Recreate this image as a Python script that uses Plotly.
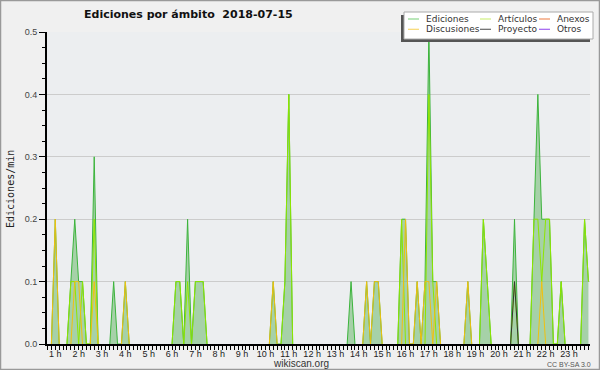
import plotly.graph_objects as go

# ---------------- data (10-minute bins, edits per minute) ----------------
ed_times = ["01:00", "01:40", "01:50", "02:00", "02:10", "02:40", "03:30", "04:00",
            "06:10", "06:20", "06:40", "07:00", "07:10", "07:20", "10:20", "10:50",
            "11:00", "13:40", "14:20", "14:40", "14:50", "15:50", "16:00", "16:30",
            "16:50", "17:00", "17:10", "17:20", "18:40", "19:20", "19:30", "20:40",
            "21:30", "21:40", "21:50", "22:00", "22:10", "22:40", "23:40", "23:50"]
ed_vals = [0.2, 0.1, 0.2, 0.1, 0.1, 0.3, 0.1, 0.1,
           0.1, 0.1, 0.2, 0.1, 0.1, 0.1, 0.1, 0.1,
           0.4, 0.1, 0.1, 0.1, 0.1, 0.2, 0.2, 0.1,
           0.1, 0.5, 0.1, 0.1, 0.1, 0.2, 0.1, 0.2,
           0.2, 0.4, 0.2, 0.2, 0.2, 0.1, 0.2, 0.1]

art_times = ["01:40", "01:50", "02:10", "02:40", "06:10", "06:20", "06:40", "07:00",
             "07:10", "07:20", "10:50", "11:00", "15:50", "17:00", "17:10", "19:20",
             "19:30", "20:40", "21:30", "21:40", "21:50", "22:00", "22:10", "22:40",
             "23:40", "23:50"]
art_vals = [0.1, 0.1, 0.1, 0.2, 0.1, 0.1, 0.1, 0.1,
            0.1, 0.1, 0.1, 0.4, 0.2, 0.4, 0.1, 0.2,
            0.1, 0.1, 0.2, 0.2, 0.1, 0.2, 0.2, 0.1,
            0.2, 0.1]

disc_times = ["01:00", "01:50", "02:00", "02:40", "04:00", "10:20", "14:20", "14:40",
              "14:50", "16:00", "16:30", "16:50", "17:00", "17:20", "18:40", "21:50"]
disc_vals = [0.2, 0.1, 0.1, 0.1, 0.1, 0.1, 0.1, 0.1,
             0.1, 0.2, 0.1, 0.1, 0.1, 0.1, 0.1, 0.1]

anexos_times = []
anexos_vals = []

proy_times = ["20:40"]
proy_vals = [0.1]

otros_times = []
otros_vals = []

# ---------------- helpers ----------------
bins = [f"{h:02d}:{m:02d}" for h in range(24) for m in range(0, 60, 10)]
x_hours = [int(b[:2]) + int(b[3:]) / 60 for b in bins]


def full_series(times, vals):
    """Values on the 10-minute grid; zero next to active bins, gap elsewhere."""
    d = dict(zip(times, vals))
    out = []
    for i, b in enumerate(bins):
        if b in d:
            out.append(d[b])
        else:
            near = (i > 0 and bins[i - 1] in d) or (i < len(bins) - 1 and bins[i + 1] in d)
            out.append(0.0 if near else None)
    return out


W, H = 600, 370
ML, MR, MT, MB = 47, 10, 32, 26
PW, PH = W - ML - MR, H - MT - MB


def px(xp):
    return (xp - ML) / PW


def py(yp):
    return (H - MB - yp) / PH


fig = go.Figure()

series = [
    ("Ediciones", ed_times, ed_vals, "#3cb43c", True),
    ("Artículos", art_times, art_vals, "#8ee600", False),
    ("Anexos", anexos_times, anexos_vals, "#f07840", False),
    ("Discusiones", disc_times, disc_vals, "#f0c010", False),
    ("Proyecto", proy_times, proy_vals, "#333333", False),
    ("Otros", otros_times, otros_vals, "#9040e0", False),
]

for name, t, v, col, filled in series:
    if not t:
        continue
    fig.add_trace(go.Scatter(
        x=x_hours, y=full_series(t, v), name=name, mode="lines",
        line=dict(color=col, width=1.0),
        fill="tozeroy" if filled else None,
        fillcolor="rgba(120,190,120,0.6)" if filled else None,
        connectgaps=False,
        showlegend=False, hoverinfo="skip",
    ))

fig.update_layout(
    width=W, height=H, autosize=False,
    margin=dict(l=ML, r=MR, t=MT, b=MB, pad=0, autoexpand=False),
    paper_bgcolor="#f0f0f0",
    plot_bgcolor="#eceef0",
    font=dict(family="DejaVu Sans", size=9, color="#333333"),
    showlegend=False,
)

fig.update_xaxes(
    range=[0.645, 23.90], automargin=False,
    tickmode="linear", tick0=0, dtick=1, ticksuffix=" h",
    ticks="outside", ticklen=4, tickwidth=1, tickcolor="#000000",
    ticklabelstandoff=-4,
    showline=True, linecolor="#000000", linewidth=2,
    showgrid=False, zeroline=False,
    tickfont=dict(family="Liberation Sans", size=9, color="#222222"),
    minor=dict(tick0=0, dtick=1 / 6, ticks="outside",
               ticklen=4, tickcolor="#000000", tickwidth=1, showgrid=False),
)

fig.update_yaxes(
    range=[0, 0.5], automargin=False,
    tickmode="linear", tick0=0, dtick=0.1, tickformat=".1f",
    ticks="outside", ticklen=6, tickwidth=1, tickcolor="#000000",
    showline=True, linecolor="#000000", linewidth=2,
    showgrid=True, gridcolor="#cccccc", gridwidth=1, zeroline=False,
    tickfont=dict(family="Liberation Sans", size=9, color="#444444"),
    minor=dict(tick0=0, dtick=0.025, ticks="outside",
               ticklen=3, tickcolor="#000000", tickwidth=1, showgrid=False),
)

shapes = []
annotations = []

# outer border
shapes.append(dict(type="rect", xref="paper", yref="paper",
                   x0=px(0.5), x1=px(W - 0.5), y0=py(H - 0.5), y1=py(0.5),
                   line=dict(color="#999999", width=1.5), fillcolor="rgba(0,0,0,0)"))

# title
annotations.append(dict(xref="paper", yref="paper", x=px(188), y=py(15),
                        text="<b>Ediciones por ámbito\u00a0\u00a02018-07-15</b>",
                        showarrow=False, xanchor="center", yanchor="middle",
                        font=dict(family="DejaVu Sans", size=11, color="#111111")))

# y axis title
annotations.append(dict(xref="paper", yref="paper", x=px(10), y=py(189),
                        text="Ediciones/min", textangle=-90, showarrow=False,
                        xanchor="center", yanchor="middle",
                        font=dict(family="DejaVu Sans Mono", size=10, color="#222222")))

# footer
annotations.append(dict(xref="paper", yref="paper", x=px(301), y=py(363.5),
                        text="wikiscan.org", showarrow=False,
                        xanchor="center", yanchor="middle",
                        font=dict(family="Liberation Sans", size=10, color="#333333")))
annotations.append(dict(xref="paper", yref="paper", x=px(569), y=py(364.5),
                        text="CC BY-SA 3.0", showarrow=False,
                        xanchor="center", yanchor="middle",
                        font=dict(family="Liberation Sans", size=7, color="#555555")))

# manual legend
shapes.append(dict(type="rect", xref="paper", yref="paper",
                   x0=px(401), x1=px(590), y0=py(42), y1=py(15),
                   line=dict(width=0), fillcolor="#555555"))
shapes.append(dict(type="rect", xref="paper", yref="paper",
                   x0=px(404), x1=px(593), y0=py(39), y1=py(12),
                   line=dict(color="#aaaaaa", width=1), fillcolor="#ffffff"))

legend_items = [
    ("Ediciones", "#8dd88d", 408, 19),
    ("Artículos", "#d0f080", 480, 19),
    ("Anexos", "#f09060", 539, 19),
    ("Discusiones", "#f8d870", 408, 29.3),
    ("Proyecto", "#666666", 480, 29.3),
    ("Otros", "#a060f0", 539, 29.3),
]
for name, col, x0, y0 in legend_items:
    shapes.append(dict(type="line", xref="paper", yref="paper",
                       x0=px(x0), x1=px(x0 + 11), y0=py(y0), y1=py(y0),
                       line=dict(color=col, width=1.2)))
    annotations.append(dict(xref="paper", yref="paper", x=px(x0 + 16), y=py(y0),
                            text=name, showarrow=False, xanchor="left", yanchor="middle",
                            font=dict(family="DejaVu Sans", size=9, color="#333333")))

fig.update_layout(shapes=shapes, annotations=annotations)

fig.write_html("out.html", config={"displayModeBar": False, "responsive": False},
               post_script="document.body.style.margin='0';document.body.style.overflow='hidden';")
